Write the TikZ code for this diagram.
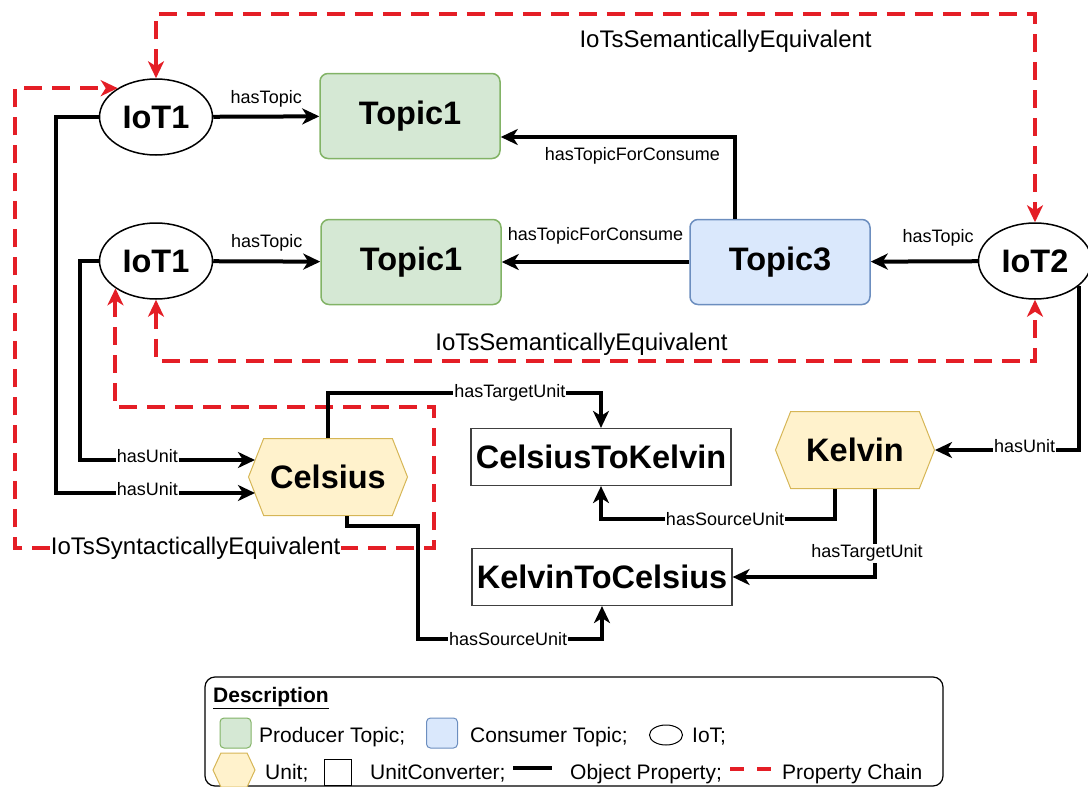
\documentclass[tikz,border=0pt]{standalone}
\usepackage{fontspec}
\setmainfont{Liberation Sans}
\usetikzlibrary{shapes.geometric,shapes.symbols,arrows.meta}

\definecolor{chainred}{RGB}{228,30,38}
\definecolor{prodfill}{HTML}{D5E8D4}
\definecolor{prodline}{HTML}{82B366}
\definecolor{consfill}{HTML}{DAE8FC}
\definecolor{consline}{HTML}{6C8EBF}
\definecolor{unitfill}{HTML}{FFF2CC}
\definecolor{unitline}{HTML}{D6B656}
\newcommand\nodefont{\fontsize{32.5}{32.5}\selectfont\bfseries}
\newcommand\legfont{\fontsize{21}{21}\selectfont}

\tikzset{
  iot/.style={ellipse, draw, line width=1.5pt, minimum width=113pt, minimum height=76pt, inner sep=0pt, font=\nodefont},
  prod/.style={draw=prodline, fill=prodfill, rounded corners=8pt, line width=1.5pt, minimum width=180pt, minimum height=85pt, font=\nodefont},
  cons/.style={draw=consline, fill=consfill, rounded corners=8pt, line width=1.5pt, minimum width=180pt, minimum height=85pt, font=\nodefont},
  unit/.style={signal, signal to=east and west, signal pointer angle=137, draw=unitline, fill=unitfill, line width=1pt, minimum width=159pt, minimum height=77pt, inner sep=0pt, font=\nodefont},
  conv/.style={draw=black!75, line width=1.2pt, minimum width=260pt, minimum height=57pt, font=\nodefont},
  prop/.style={line width=4pt, -{Stealth[length=17pt,width=16pt,inset=5pt]}},
  chainline/.style={chainred, line width=4pt, dash pattern=on 18pt off 10pt, {Stealth[length=17pt,width=16pt,inset=5pt]}-{Stealth[length=17pt,width=16pt,inset=5pt]}},
  lbl/.style={fill=white, inner sep=1pt, font=\fontsize{18}{18}\selectfont},
  lbltop/.style={inner sep=0pt, anchor=base, font=\fontsize{18}{18}\selectfont},
  chainlbl/.style={text=black, inner sep=0pt, anchor=base, font=\fontsize{24}{24}\selectfont},
  legtxt/.style={inner sep=0pt, anchor=base west, font=\legfont}
}

\begin{document}
\begin{tikzpicture}[x=1pt,y=-1pt]
\useasboundingbox (0,0) rectangle (1088,787);

\node[iot] (iotA) at (156,117) {IoT1};
\node[prod] (topA) at (410,116) {Topic1};
\node[iot] (iotB) at (156,261) {IoT1};
\node[prod] (topB) at (411,262) {Topic1};
\node[cons] (topC) at (780,262) {Topic3};
\node[iot] (iotC) at (1035,261) {IoT2};
\node[unit] (cel) at (328,477) {Celsius};
\node[unit] (kel) at (855,450) {Kelvin};
\node[conv] (c2k) at (601,457) {CelsiusToKelvin};
\node[conv] (k2c) at (602,577) {KelvinToCelsius};

% property chains
\draw[chainline] (iotA.north) -- ++(0,-64) -| (iotC.north)
  node[chainlbl, pos=0.324, yshift=-33pt] {IoTsSemanticallyEquivalent};
\draw[chainline] (iotB.south) -- ++(0,61) -| (iotC.south)
  node[chainlbl, pos=0.242, yshift=10pt] {IoTsSemanticallyEquivalent};
\draw[chainline] (iotB.214) -- ++(0,119) -- ++(319,0) -- ++(0,141) -- ++(-419,0)
  node[chainlbl, anchor=center, fill=white, inner sep=1pt, pos=0.57] {IoTsSyntacticallyEquivalent} |- (iotA.143);

% object properties
\draw[prop] (iotA) -- (topA) node[lbltop, pos=0.5, yshift=13pt] {hasTopic};
\draw[prop] (iotB) -- (topB) node[lbltop, pos=0.5, yshift=14pt] {hasTopic};
\draw[prop] (iotC) -- (topC) node[lbltop, pos=0.37, yshift=19pt] {hasTopic};
\draw[prop] (topC) -- (topB) node[lbltop, pos=0.5, yshift=22pt] {hasTopicForConsume};
\draw[prop] ([xshift=-45pt]topC.north) |- ([yshift=-21pt]topA.east)
  node[lbltop, pos=0.719, yshift=-23pt] {hasTopicForConsume};
\draw[prop] (iotA.west) -- ++(-43,0) |- ([xshift=7pt,yshift=-16pt]cel.west)
  node[lbl, pos=0.73, yshift=4pt] {hasUnit};
\draw[prop] (iotB.west) -- ++(-19,0) |- ([xshift=7pt,yshift=17pt]cel.west)
  node[lbl, pos=0.693, yshift=4pt] {hasUnit};
\draw[prop] (iotC.-30) |- (kel.east) node[lbl, pos=0.6875, yshift=4pt] {hasUnit};
\draw[prop] (cel.north) -- ++(0,-45) -| (c2k.north) node[lbl, pos=0.333] {hasTargetUnit};
\draw[prop] ([xshift=19pt]cel.south) |- ++(71,10) |- ([yshift=-33pt]k2c.south)
  node[lbl, pos=0.745] {hasSourceUnit} -- (k2c.south);
\draw[prop] ([xshift=-20pt]kel.south) |- ([yshift=-33pt]c2k.south)
  node[lbl, pos=0.735] {hasSourceUnit} -- (c2k.south);
\draw[prop] ([xshift=20pt]kel.south) |- (k2c.east)
  node[lbl, pos=0.365, xshift=-8pt] {hasTargetUnit};

% legend
\node[draw, rounded corners=10pt, line width=1.2pt, minimum width=738pt, minimum height=109pt, inner sep=0pt] (legend) at (574,731.5) {};
\node[legtxt, font=\legfont\bfseries] (legTitle) at (213,702) {\underline{Description}};
\node[prod, minimum width=31pt, minimum height=30pt, rounded corners=4pt, line width=1pt] (lgProd) at (235.5,733) {};
\node[legtxt] (lgProdTxt) at (259,742) {Producer Topic;};
\node[cons, minimum width=31pt, minimum height=30pt, rounded corners=4pt, line width=1pt] (lgCons) at (442,733) {};
\node[legtxt] (lgConsTxt) at (470,742) {Consumer Topic;};
\node[iot, minimum width=33pt, minimum height=20pt, line width=1pt] (lgIot) at (666,735) {};
\node[legtxt] (lgIotTxt) at (692,742) {IoT;};
\node[unit, minimum width=42pt, minimum height=34pt, signal pointer angle=130] (lgUnit) at (234,770) {};
\node[legtxt] (lgUnitTxt) at (265,779) {Unit;};
\node[draw, line width=1pt, minimum width=27pt, minimum height=26pt, inner sep=0pt] (lgConv) at (338,772) {};
\node[legtxt] (lgConvTxt) at (370,779) {UnitConverter;};
\coordinate (lgPropA) at (513,768);
\coordinate (lgPropB) at (552,768);
\draw[line width=4pt] (lgPropA) -- (lgPropB);
\node[legtxt] (lgPropTxt) at (570,779) {Object Property;};
\coordinate (lgChainA) at (730,769);
\coordinate (lgChainB) at (771,769);
\draw[chainred, line width=4.5pt, dash pattern=on 14pt off 13pt] (lgChainA) -- (lgChainB);
\node[legtxt] (lgChainTxt) at (782,779) {Property Chain};
\end{tikzpicture}
\end{document}
